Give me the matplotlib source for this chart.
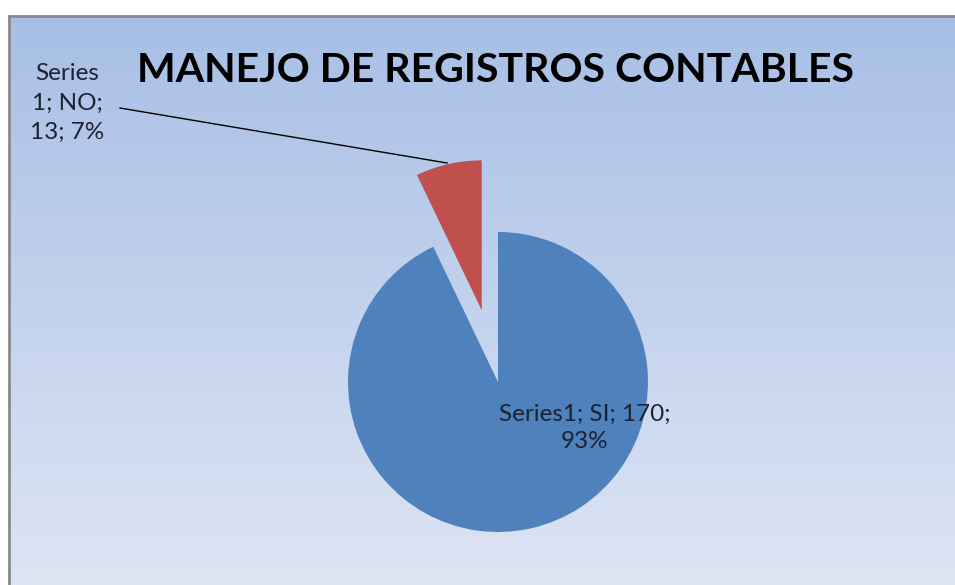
import matplotlib.pyplot as plt
import numpy as np
from matplotlib.patches import Rectangle

# datos
categorias = ['SI', 'NO']
valores = [170, 13]
porcentajes = [93, 7]
colores = ['#4F81BD', '#C0504D']
titulo = 'MANEJO DE REGISTROS CONTABLES'

W, H = 955, 585
R = 150
fig = plt.figure(figsize=(W / 100, H / 100), dpi=100)
ax = fig.add_axes([0, 0, 1, 1])

# fondo degradado del grafico
top = np.array([167, 191, 230]) / 255
bot = np.array([222, 229, 244]) / 255
t = np.linspace(0, 1, 256)[:, None]
grad = (top * (1 - t) + bot * t)[:, None, :]
ax.imshow(grad, extent=[9, W + 5, -5, H - 16], aspect='auto', zorder=0)
ax.add_patch(Rectangle((9, -5), W, H - 11, fill=False, ec='#8a8a8a', lw=2, zorder=1))

# pastel (explode en unidades de datos -> fraccion * radio)
wedges, _ = ax.pie(valores, colors=colores, startangle=90, counterclock=False,
                   explode=[0, 0.49 * R], center=(498, H - 382), radius=R,
                   wedgeprops=dict(linewidth=0), frame=True)
ax.set_xlim(0, W)
ax.set_ylim(0, H)
ax.set_aspect('equal')
ax.axis('off')
for w in wedges:
    w.set_zorder(2)

ax.text(495, H - 70, titulo, ha='center', va='center', fontsize=29.5,
        fontweight='bold', family='Lato', color='black', zorder=3)

ax.text(585, H - 428, f'Series1; {categorias[0]}; {valores[0]};\n{porcentajes[0]}%',
        ha='center', va='center', fontsize=17.5, family='Lato', color='#1c2233',
        linespacing=1.4, zorder=3)

ax.text(67, H - 103, f'Series\n1; {categorias[1]};\n{valores[1]}; {porcentajes[1]}%',
        ha='center', va='center', fontsize=17.5, family='Lato', color='#1c2233',
        linespacing=1.5, zorder=3)
ax.plot([120, 447], [H - 108, H - 163], color='black', lw=1, zorder=3)

fig.savefig('out.png', dpi=100)
